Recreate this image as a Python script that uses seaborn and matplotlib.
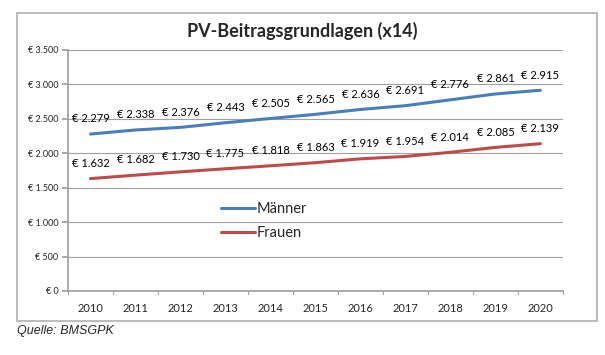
import pandas as pd
import seaborn as sns
import matplotlib.pyplot as plt
from matplotlib.patches import Rectangle

years = [2010, 2011, 2012, 2013, 2014, 2015, 2016, 2017, 2018, 2019, 2020]
maenner = [2279, 2338, 2376, 2443, 2505, 2565, 2636, 2691, 2776, 2861, 2915]
frauen = [1632, 1682, 1730, 1775, 1818, 1863, 1919, 1954, 2014, 2085, 2139]
y_ticks = [0, 500, 1000, 1500, 2000, 2500, 3000, 3500]

BLUE = '#4A7EBB'
RED = '#BE4B48'


def euro(v):
    return "€ " + f"{v:,}".replace(",", ".")


df = pd.DataFrame({
    'pos': list(range(len(years))) * 2,
    'wert': maenner + frauen,
    'serie': ['Männer'] * len(years) + ['Frauen'] * len(years),
})

sns.set_theme(style='white')
plt.rcParams['font.family'] = ['Lato', 'DejaVu Sans']

fig = plt.figure(figsize=(6.05, 3.55), dpi=100)
ax = fig.add_axes([0.1124, 0.1803, 0.818, 0.679])

sns.lineplot(data=df, x='pos', y='wert', hue='serie',
             palette={'Männer': BLUE, 'Frauen': RED},
             linewidth=2.2, ax=ax, legend=True)

for vals in (maenner, frauen):
    for i, v in enumerate(vals):
        ax.annotate(euro(v), (i, v), xytext=(0, 7), textcoords='offset points',
                    ha='center', va='bottom', fontsize=8, color='black')

ax.set_xlim(-0.5, len(years) - 0.5)
ax.set_ylim(0, 3500)
ax.set_yticks(y_ticks)
ax.set_yticklabels([euro(v) for v in y_ticks], fontsize=6.5)
ax.set_xticks(range(len(years)))
ax.set_xticklabels([str(y) for y in years], fontsize=8)
ax.tick_params(axis='x', length=0, pad=9)
ax.tick_params(axis='y', length=4, color='#A0A0A0', pad=3, left=True)

# category boundary ticks on x axis
for b in range(len(years) + 1):
    ax.plot([b - 0.5, b - 0.5], [0, -0.012], transform=ax.get_xaxis_transform(),
            color='#A0A0A0', lw=0.8, clip_on=False)

ax.grid(axis='y', color='#A0A0A0', lw=0.8)
ax.set_axisbelow(True)
for side in ('top', 'right'):
    ax.spines[side].set_visible(False)
ax.spines['left'].set_color('#A0A0A0')
ax.spines['bottom'].set_color('#A0A0A0')
ax.set_xlabel('')
ax.set_ylabel('')

leg = ax.legend(loc='upper left', bbox_to_anchor=(0.283, 0.425), frameon=False,
                fontsize=10.5, handlelength=2.3, handletextpad=0.1,
                labelspacing=0.7)

fig.text(0.5, 0.912, 'PV-Beitragsgrundlagen (x14)', ha='center', va='center',
         fontsize=13, fontweight='bold')

fig.patches.append(Rectangle((17 / 605, 1 - 321 / 355), 580 / 605, 308 / 355,
                             transform=fig.transFigure, fill=False,
                             edgecolor='#B0B0B0', lw=1.2))

fig.text(17 / 605, 1 - 331 / 355, 'Quelle: BMSGPK', ha='left', va='center',
         fontsize=9, style='italic', family='Liberation Sans')

fig.savefig('out.png', dpi=100)
